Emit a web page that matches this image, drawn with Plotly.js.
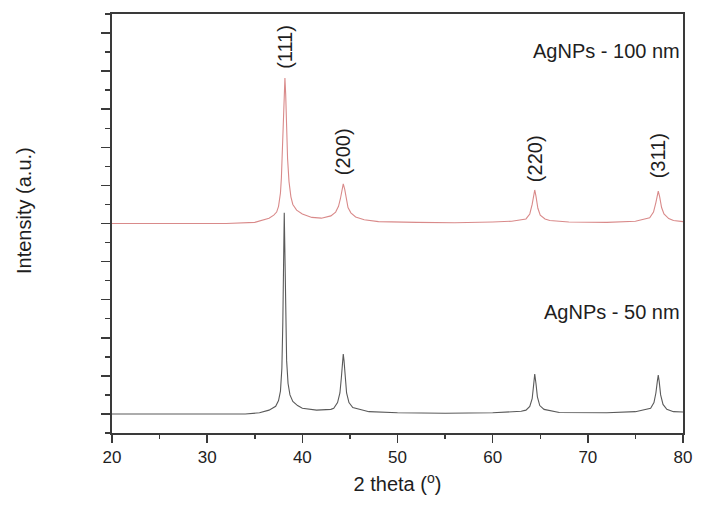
<!DOCTYPE html>
<html>
<head>
<meta charset="utf-8">
<script src="https://cdn.plot.ly/plotly-3.0.1.min.js"></script>
<style>
  html, body { margin: 0; padding: 0; background: #fff; }
  #xrd { width: 705px; height: 512px; }
</style>
</head>
<body>
<div id="xrd"></div>
<script>
// XRD patterns, intensity in arbitrary units

const theta100 = [20, 24, 28, 32, 35, 36, 36.5, 37, 37.3, 37.5, 37.7, 37.8, 37.9, 38.0, 38.1, 38.17, 38.25, 38.35, 38.45, 38.6, 38.8, 39.0, 39.4, 40, 41, 42, 43, 43.5, 43.8, 44.0, 44.15, 44.3, 44.45, 44.6, 44.8, 45.1, 45.6, 46.5, 48, 52, 56, 60, 62, 63.5, 63.9, 64.15, 64.3, 64.42, 64.55, 64.75, 65.0, 65.5, 66, 68, 72, 75, 76.5, 76.9, 77.15, 77.3, 77.4, 77.55, 77.75, 78.0, 78.5, 79, 80];
const counts100 = [0, 0, -0.01, 0, 0.03, 0.1, 0.14, 0.22, 0.3, 0.45, 0.8, 1.2, 1.9, 2.9, 3.6, 3.82, 3.4, 2.5, 1.7, 1.1, 0.7, 0.5, 0.35, 0.25, 0.16, 0.14, 0.2, 0.3, 0.45, 0.65, 0.88, 1.04, 0.9, 0.65, 0.42, 0.28, 0.17, 0.1, 0.05, 0.03, 0.02, 0.04, 0.06, 0.12, 0.25, 0.5, 0.78, 0.88, 0.72, 0.4, 0.22, 0.12, 0.08, 0.04, 0.03, 0.06, 0.15, 0.3, 0.55, 0.8, 0.85, 0.7, 0.42, 0.25, 0.13, 0.08, 0.05];

const theta50 = [20, 25, 30, 34, 35.5, 36.5, 37.2, 37.5, 37.7, 37.85, 37.95, 38.03, 38.1, 38.17, 38.25, 38.35, 38.5, 38.7, 39, 39.5, 40, 41.5, 43, 43.3, 43.7, 43.95, 44.1, 44.22, 44.3, 44.38, 44.5, 44.65, 44.9, 45.3, 47, 50, 55, 60, 63, 63.5, 63.9, 64.15, 64.3, 64.42, 64.55, 64.7, 64.95, 65.4, 67, 72, 75, 76.6, 76.95, 77.15, 77.3, 77.4, 77.5, 77.65, 77.9, 78.3, 79, 80];
const counts50 = [0, 0, -0.01, 0, 0.03, 0.1, 0.2, 0.35, 0.6, 1.2, 2.4, 4.0, 5.28, 4.2, 2.6, 1.4, 0.8, 0.5, 0.33, 0.22, 0.15, 0.1, 0.12, 0.15, 0.3, 0.55, 0.95, 1.4, 1.57, 1.4, 0.9, 0.55, 0.3, 0.17, 0.06, 0.03, 0.02, 0.03, 0.07, 0.1, 0.2, 0.4, 0.75, 1.05, 0.8, 0.45, 0.22, 0.12, 0.04, 0.03, 0.06, 0.15, 0.3, 0.55, 0.85, 1.02, 0.85, 0.5, 0.25, 0.12, 0.06, 0.05];

// the 100 nm pattern is stacked above the 50 nm one
const offset100 = 5;

const peakLabels = ['(111)', '(200)', '(220)', '(311)'];
const peakPos = [38.15, 44.3, 64.45, 77.4];
const peakLabelY = [9.63, 6.88, 6.69, 6.77];

const seriesNames = ['AgNPs - 100 nm', 'AgNPs - 50 nm'];

const txtFont = 'Liberation Sans, Arial, sans-serif';
const frame = '#3a3a3a';
const ink = '#1e1e1e';

const traces = [
    {
        x: theta50,
        y: counts50,
        type: 'scatter',
        mode: 'lines',
        name: seriesNames[1],
        line: { color: '#5a5a5a', width: 1.1 }
    },
    {
        x: theta100,
        y: counts100.map(v => v + offset100),
        type: 'scatter',
        mode: 'lines',
        name: seriesNames[0],
        line: { color: '#d98a8a', width: 1.1 }
    }
];

const annotations = peakLabels.map((lab, i) => ({
    x: peakPos[i],
    y: peakLabelY[i],
    xref: 'x',
    yref: 'y',
    text: lab,
    textangle: -90,
    showarrow: false,
    font: { family: txtFont, size: 20, color: ink }
}));

annotations.push({
    x: 79.85, y: 9.53, xref: 'x', yref: 'y', xanchor: 'right',
    text: seriesNames[0], showarrow: false,
    font: { family: txtFont, size: 20, color: ink }
});
annotations.push({
    x: 79.85, y: 2.68, xref: 'x', yref: 'y', xanchor: 'right',
    text: seriesNames[1], showarrow: false,
    font: { family: txtFont, size: 20, color: ink }
});

// y title sits a bit above the axis middle in the original
annotations.push({
    x: -0.154, y: 0.53, xref: 'paper', yref: 'paper',
    xanchor: 'center', yanchor: 'middle',
    text: 'Intensity (a.u.)', textangle: -90, showarrow: false,
    font: { family: txtFont, size: 20, color: ink }
});

Plotly.newPlot('xrd', traces, {
    width: 705,
    height: 512,
    margin: { l: 112, r: 22, t: 14, b: 79 },
    paper_bgcolor: '#fff',
    plot_bgcolor: '#fff',
    showlegend: false,
    font: { family: txtFont, color: ink },
    xaxis: {
        range: [20, 80],
        tickmode: 'linear',
        tick0: 20,
        dtick: 10,
        ticks: 'outside',
        ticklen: 8,
        tickwidth: 1.5,
        tickcolor: frame,
        minor: { dtick: 5, ticks: 'outside', ticklen: 4, tickwidth: 1.5, tickcolor: frame },
        showgrid: false,
        zeroline: false,
        showline: true,
        linecolor: frame,
        linewidth: 1.8,
        mirror: true,
        tickfont: { family: txtFont, size: 17, color: ink },
        title: { text: '2 theta (<sup>o</sup>)', font: { family: txtFont, size: 20, color: ink }, standoff: 11 }
    },
    yaxis: {
        range: [-0.5, 10.5],
        tickmode: 'linear',
        tick0: 0,
        dtick: 1,
        ticks: 'outside',
        ticklen: 9,
        tickwidth: 1.5,
        tickcolor: frame,
        minor: { dtick: 0.5, ticks: 'outside', ticklen: 5, tickwidth: 1.5, tickcolor: frame },
        showticklabels: false,
        showgrid: false,
        zeroline: false,
        showline: true,
        linecolor: frame,
        linewidth: 1.8,
        mirror: true
    },
    annotations: annotations
}, { displayModeBar: false, staticPlot: true });
</script>
</body>
</html>
